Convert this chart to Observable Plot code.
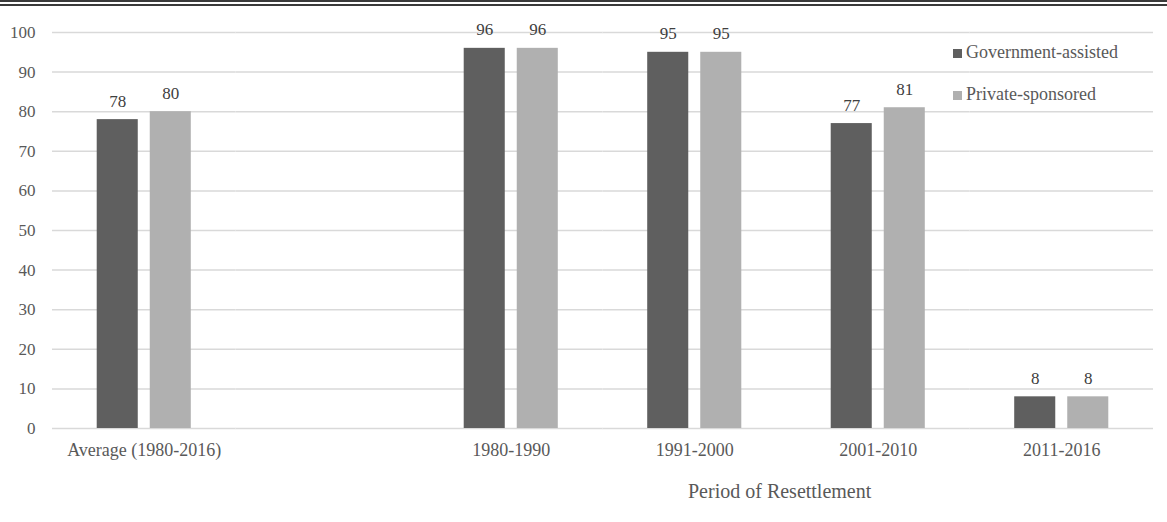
<!DOCTYPE html>
<html>
<head>
<meta charset="utf-8">
<script src="https://cdn.jsdelivr.net/npm/d3@7"></script>
<script src="https://cdn.jsdelivr.net/npm/@observablehq/plot@0.6"></script>
<style>
  html, body { margin: 0; padding: 0; background: #fff; }
  #wrap { position: relative; width: 1167px; height: 522px; overflow: hidden; font-family: "Liberation Serif", "Times New Roman", serif; }
  #rule { position: absolute; left: 0; top: 0; width: 1167px; height: 0; border-top: 6px double #3a3a3a; z-index: 2; }
  #chart { position: absolute; left: 0; top: 0; }
  #legend { position: absolute; left: 953px; top: 42px; font-size: 18px; color: #595959; }
  #legend div { height: 42px; display: flex; align-items: flex-start; }
  #legend span.sw { display: inline-block; width: 9px; height: 9px; margin-right: 4px; margin-top: 7px; }
  #xtitle { position: absolute; left: 688px; top: 480px; font-size: 20px; color: #595959; white-space: nowrap; }
</style>
</head>
<body>
<div id="wrap">
  <div id="rule"></div>
  <div id="chart"></div>
  <div id="legend"></div>
  <div id="xtitle"></div>
</div>
<script>
// ---- data ----
const periods = ["Average (1980-2016)", " ", "1980-1990", "1991-2000", "2001-2010", "2011-2016"];
const series = ["Government-assisted", "Private-sponsored"];
const governmentAssisted = [78, null, 96, 95, 77, 8];
const privateSponsored = [80, null, 96, 95, 81, 8];
const yTicks = [0, 10, 20, 30, 40, 50, 60, 70, 80, 90, 100];
const colors = ["#5f5f5f", "#b0b0b0"];
const xTitle = "Period of Resettlement";

const rows = [];
periods.forEach((p, i) => {
  rows.push({period: p, series: series[0], value: governmentAssisted[i]});
  rows.push({period: p, series: series[1], value: privateSponsored[i]});
});
const labelled = rows.filter(d => d.value != null);
const serif = "'Liberation Serif', 'Times New Roman', serif";

const chart = Plot.plot({
  width: 1167,
  height: 522,
  marginLeft: 52,
  marginRight: 14,
  marginTop: 32,
  marginBottom: 94,
  style: {fontFamily: serif, fontSize: "17px", color: "#595959", background: "transparent"},
  fx: {domain: periods, padding: 0, round: false, label: null, axis: null},
  x: {domain: series, paddingInner: 0.226, paddingOuter: 0.843, round: false, axis: null},
  y: {domain: [0, 100], label: null, axis: null},
  color: {domain: series, range: colors},
  marks: [
    Plot.gridY(yTicks, {stroke: "#d9d9d9", strokeOpacity: 1, strokeWidth: 1.5}),
    Plot.axisY(yTicks, {tickSize: 0, tickPadding: 17, label: null, fontSize: 17, fontFamily: serif, fill: "#595959"}),
    Plot.axisFx({anchor: "bottom", tickSize: 0, tickPadding: 15, label: null, fontSize: 18, fontFamily: serif, fill: "#595959"}),
    Plot.barY(rows, {fx: "period", x: "series", y: "value", fill: "series"}),
    Plot.text(labelled, {fx: "period", x: "series", y: "value", text: d => String(d.value), lineAnchor: "bottom", dy: -13, fontSize: 17, fontFamily: serif, fill: "#404040"})
  ]
});
document.getElementById("chart").appendChild(chart);

const legend = document.getElementById("legend");
series.forEach((s, i) => {
  const row = document.createElement("div");
  const sw = document.createElement("span");
  sw.className = "sw";
  sw.style.background = colors[i];
  row.appendChild(sw);
  row.appendChild(document.createTextNode(s));
  legend.appendChild(row);
});
document.getElementById("xtitle").textContent = xTitle;
</script>
</body>
</html>
